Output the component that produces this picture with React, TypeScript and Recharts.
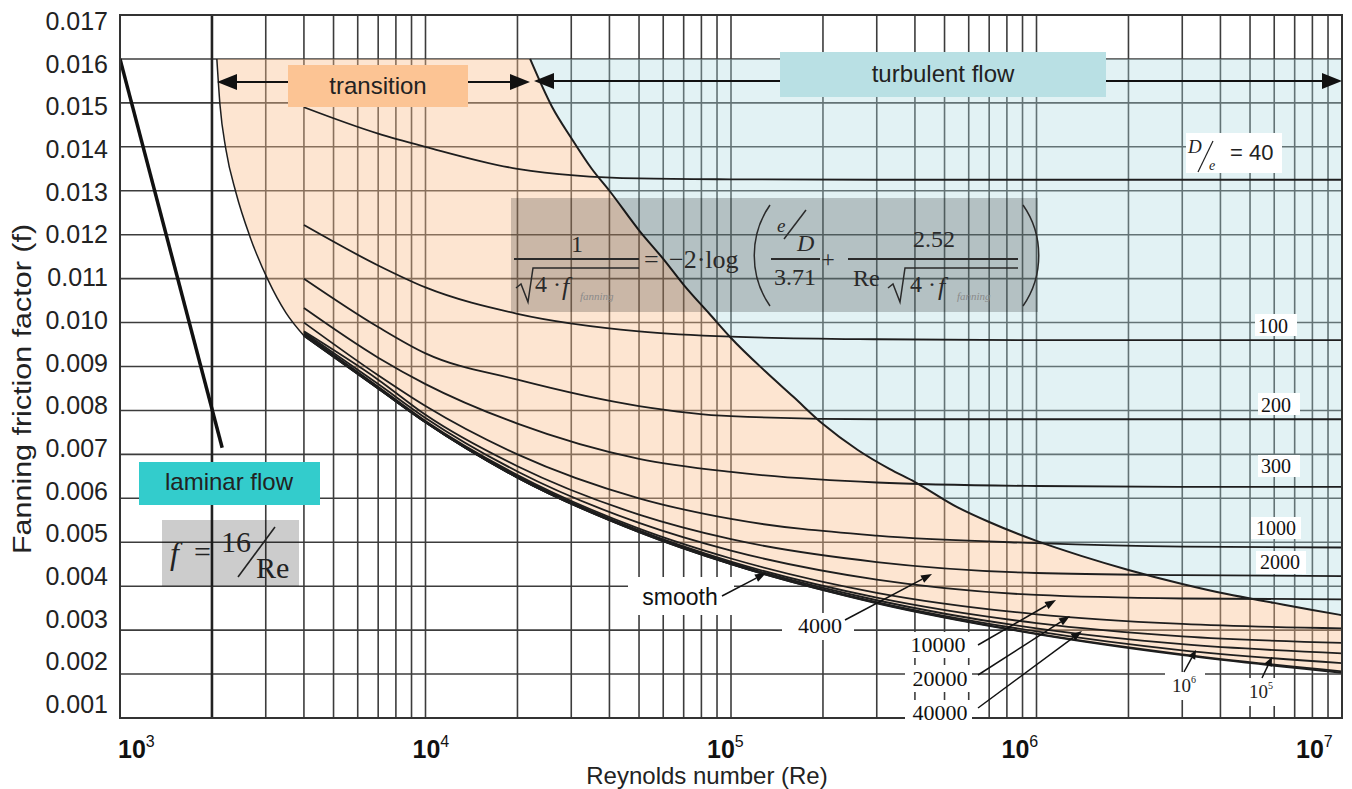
import React from "react";
import {
	ComposedChart,
	Line,
	Area,
	XAxis,
	YAxis,
	CartesianGrid,
	ReferenceLine,
} from "recharts";

const SANS = '"Liberation Sans", Arial, sans-serif';
const SERIF = '"Liberation Serif", "Times New Roman", serif';
const INK = "#1e1e1e";

// axes
const DECADES = [1e3, 1e4, 1e5, 1e6, 1e7];
const F_TICKS = [
	0.001, 0.002, 0.003, 0.004, 0.005, 0.006, 0.007, 0.008, 0.009, 0.01,
	0.011, 0.012, 0.013, 0.014, 0.015, 0.016, 0.017,
];
const RE_GRID = [
	2000, 3000, 4000, 5000, 6000, 7000, 8000, 9000, 1e4,
	2e4, 3e4, 4e4, 5e4, 6e4, 7e4, 8e4, 9e4, 1e5,
	2e5, 3e5, 4e5, 5e5, 6e5, 7e5, 8e5, 9e5, 1e6,
	2e6, 3e6, 4e6, 5e6, 6e6, 7e6, 8e6, 9e6,
];

// laminar line f = 16/Re
const LAMINAR_RE = [1000, 2160];
const LAMINAR_F = [0.016, 0.00715];

// roughness curves, labelled by D/e
const CURVE_RE = [4000, 7000, 1e4, 2e4, 5e4, 1e5, 3e5, 1e6, 3e6, 1e7];
const F_40 = [0.0149, 0.0143, 0.014, 0.0135, 0.01328, 0.01326, 0.01325, 0.01325, 0.01325, 0.01325];
const F_100 = [0.01222, 0.0113, 0.0108, 0.0102, 0.0098, 0.00968, 0.00962, 0.0096, 0.0096, 0.0096];
const F_200 = [0.011, 0.0099, 0.0093, 0.0087, 0.0081, 0.00787, 0.0078, 0.0078, 0.0078, 0.0078];
const F_300 = [0.01033, 0.0092, 0.0086, 0.0077, 0.0069, 0.0066, 0.00636, 0.00628, 0.00626, 0.00626];
const F_1000 = [0.01, 0.0088, 0.0081, 0.007, 0.006, 0.00553, 0.00515, 0.00498, 0.0049, 0.00488];
const F_2000 = [0.0098, 0.0087, 0.0079, 0.00673, 0.00563, 0.00507, 0.00455, 0.0043, 0.00425, 0.00423];
const F_4000 = [0.00978, 0.0086, 0.00783, 0.00661, 0.00544, 0.00481, 0.00415, 0.0038, 0.00372, 0.0037];
const F_10000 = [0.00975, 0.00854, 0.00776, 0.00653, 0.00531, 0.00463, 0.00385, 0.00336, 0.00314, 0.00304];
const F_20000 = [0.00973, 0.00852, 0.00774, 0.0065, 0.00527, 0.00456, 0.00374, 0.00316, 0.00286, 0.00271];
const F_40000 = [0.00972, 0.00851, 0.00773, 0.00648, 0.00525, 0.00453, 0.00368, 0.00304, 0.00268, 0.00247];
const F_1E5 = [0.00971, 0.0085, 0.00773, 0.00647, 0.00524, 0.00451, 0.00364, 0.00297, 0.00254, 0.00225];
const F_1E6 = [0.0097, 0.0085, 0.00773, 0.00647, 0.00523, 0.0045, 0.00362, 0.00292, 0.00245, 0.00206];
const F_SMOOTH = [0.0097, 0.0085, 0.00773, 0.00647, 0.00523, 0.0045, 0.00361, 0.00291, 0.00243, 0.00203];

// regions: top of the chart's shaded bands
const BAND_TOP = 0.016;
// left edge of the transition zone
const EDGE_RE = [2075, 2125, 2223, 2398, 2665, 3051, 3494, 4000];
const EDGE_F = [0.016, 0.01495, 0.01393, 0.01295, 0.01195, 0.01097, 0.01022, 0.0097];
// smooth pipe under the left part of the band
const LOW_RE = [5000, 7000, 1e4, 1.5e4, 2e4];
const LOW_F = [0.00934, 0.0085, 0.00773, 0.00695, 0.00647];
// start of fully rough flow, with the smooth curve beneath it
const ROUGH_RE = [
	2.2e4, 2.6e4, 3e4, 3.5e4, 4e4, 5e4, 6e4, 7e4, 8.5e4, 1e5, 1.3e5, 1.6e5, 2e5,
	2.6e5, 3.3e5, 4e5, 5.5e5, 7e5, 1e6, 1.4e6, 2e6, 3e6, 4.2e6, 6e6, 8e6, 1e7,
];
const ROUGH_EDGE = [
	0.016, 0.0149, 0.0142, 0.0135, 0.013, 0.0121, 0.01145, 0.01086, 0.0102, 0.00965, 0.00888, 0.00831, 0.00769,
	0.0071, 0.00667, 0.00637, 0.0058, 0.00546, 0.00503, 0.00469, 0.00437, 0.00405, 0.00382, 0.00362, 0.00346, 0.00334,
];
const ROUGH_LOW = [
	0.00633, 0.00609, 0.00588, 0.00567, 0.00548, 0.00523, 0.00503, 0.00486, 0.00466, 0.0045, 0.00428, 0.00411, 0.00392,
	0.00372, 0.00355, 0.00343, 0.00325, 0.00311, 0.00291, 0.00275, 0.00259, 0.00243, 0.00231, 0.00219, 0.0021, 0.00203,
];

const CURVES = [
	{ id: "40", f: F_40 },
	{ id: "100", f: F_100 },
	{ id: "200", f: F_200 },
	{ id: "300", f: F_300 },
	{ id: "1000", f: F_1000 },
	{ id: "2000", f: F_2000 },
	{ id: "4000", f: F_4000 },
	{ id: "10000", f: F_10000 },
	{ id: "20000", f: F_20000 },
	{ id: "40000", f: F_40000 },
	{ id: "1e5", f: F_1E5 },
	{ id: "1e6", f: F_1E6 },
	{ id: "smooth", f: F_SMOOTH },
];

const rows = (re: number[], f: number[]) => re.map((r, i) => ({ re: r, f: f[i] }));

const transitionBand = [
	...EDGE_RE.map((r, i) => ({ re: r, band: [EDGE_F[i], BAND_TOP] })),
	...LOW_RE.map((r, i) => ({ re: r, band: [LOW_F[i], BAND_TOP] })),
	...ROUGH_RE.map((r, i) => ({ re: r, band: [ROUGH_LOW[i], ROUGH_EDGE[i]] })),
];
const turbulentBand = ROUGH_RE.map((r, i) => ({ re: r, band: [ROUGH_EDGE[i], BAND_TOP] }));

const ReTick = (props: any) => {
	const { x, payload } = props;
	const power = Math.round(Math.log10(payload.value));
	const left = x - 2 - (x - 120) * 0.036;
	return (
		<text x={left} y={758} fill="#111" fontFamily={SANS}>
			<tspan fontSize={25} fontWeight="bold">10</tspan>
			<tspan fontSize={16} dy={-11}>{power}</tspan>
		</text>
	);
};

const FTick = (props: any) => {
	const { y, payload } = props;
	const mid = 21 + (y - 15) * 0.9716;
	return (
		<text x={108} y={mid + 9} textAnchor="end" fontSize={25} fill="#222" fontFamily={SANS}>
			{payload.value.toFixed(3)}
		</text>
	);
};

const Arrow = ({ x1, y1, x2, y2, head = 11, half = 4, width = 1.5 }: any) => {
	const a = Math.atan2(y2 - y1, x2 - x1);
	const bx = x2 - head * Math.cos(a);
	const by = y2 - head * Math.sin(a);
	const px = -Math.sin(a) * half;
	const py = Math.cos(a) * half;
	return (
		<g>
			<line x1={x1} y1={y1} x2={bx} y2={by} stroke="#111" strokeWidth={width} />
			<polygon points={`${x2},${y2} ${bx + px},${by + py} ${bx - px},${by - py}`} fill="#111" />
		</g>
	);
};

const Tag = ({ x, y, w, h, text, tx, ty, size = 20, font = SERIF }: any) => (
	<g>
		<rect x={x} y={y} width={w} height={h} fill="#fff" />
		<text x={tx} y={ty} textAnchor="middle" fontSize={size} fontFamily={font} fill="#111">
			{text}
		</text>
	</g>
);

const Notes = () => (
	<svg
		width={1352}
		height={789}
		style={{ position: "absolute", left: 0, top: 0, pointerEvents: "none" }}
	>
		<rect x={120} y={15} width={1222} height={703} fill="none" stroke="#333" strokeWidth={2} />

		{/* flow regime boxes */}
		<rect x={288} y={65} width={180} height={42} fill="#fcc494" />
		<text x={378} y={94} textAnchor="middle" fontSize={24} fontFamily={SANS} fill="#222">
			transition
		</text>
		<Arrow x1={288} y1={82} x2={217} y2={82} head={20} half={8} width={2} />
		<Arrow x1={468} y1={82} x2={530} y2={82} head={20} half={8} width={2} />

		<rect x={780} y={52} width={326} height={45} fill="#b9e0e4" />
		<text x={943} y={82} textAnchor="middle" fontSize={24} fontFamily={SANS} fill="#222">
			turbulent flow
		</text>
		<Arrow x1={780} y1={81} x2={534} y2={81} head={20} half={8} width={2} />
		<Arrow x1={1106} y1={81} x2={1342} y2={81} head={20} half={8} width={2} />

		<rect x={139} y={462} width={181} height={43} fill="#33cccc" />
		<text x={229} y={490} textAnchor="middle" fontSize={24} fontFamily={SANS} fill="#222">
			laminar flow
		</text>

		{/* f = 16/Re */}
		<rect x={162} y={520} width={137} height={66} fill="#000" fillOpacity={0.2} />
		<g fontFamily={SERIF} fill="#222">
			<text x={170} y={564} fontSize={32} fontStyle="italic">f</text>
			<text x={194} y={562} fontSize={30}>=</text>
			<text x={221} y={552} fontSize={30}>16</text>
			<text x={256} y={578} fontSize={30}>Re</text>
		</g>
		<line x1={275} y1={527} x2={238} y2={577} stroke="#222" strokeWidth={1.6} />

		{/* Colebrook equation */}
		<rect x={511} y={198} width={527} height={114} fill="#000" fillOpacity={0.2} />
		<g fontFamily={SERIF} fill="#2a2a2a" stroke="none">
			<text x={577} y={252} fontSize={24} textAnchor="middle">1</text>
			<text x={535} y={292} fontSize={24}>4 ·</text>
			<text x={562} y={295} fontSize={26} fontStyle="italic">f</text>
			<text x={580} y={300} fontSize={11} fontStyle="italic" fill="#8a8a8a">fanning</text>
			<text x={644} y={268} fontSize={26}>=</text>
			<text x={669} y={268} fontSize={26}>−2·log</text>
			<text x={777} y={232} fontSize={19} fontStyle="italic">e</text>
			<text x={797} y={251} fontSize={24} fontStyle="italic">D</text>
			<text x={795} y={285} fontSize={24} textAnchor="middle">3.71</text>
			<text x={828} y={267} fontSize={24} textAnchor="middle">+</text>
			<text x={934} y={247} fontSize={24} textAnchor="middle">2.52</text>
			<text x={853} y={286} fontSize={24}>Re</text>
			<text x={910} y={292} fontSize={24}>4 ·</text>
			<text x={938} y={295} fontSize={26} fontStyle="italic">f</text>
			<text x={957} y={300} fontSize={11} fontStyle="italic" fill="#8a8a8a">fanning</text>
		</g>
		<g stroke="#2a2a2a" fill="none" strokeWidth={1.5}>
			<line x1={514} y1={259} x2={639} y2={259} strokeWidth={2} />
			<path d="M 516 288 L 521 284 L 528 302 L 533 268 L 639 268" />
			<path d="M 770 205 C 749 235 749 276 770 306" />
			<line x1={784} y1={239} x2={806} y2={210} />
			<line x1={771} y1={259} x2={820} y2={259} strokeWidth={2} />
			<line x1={848} y1={259} x2={1018} y2={259} strokeWidth={2} />
			<path d="M 888 288 L 893 284 L 900 302 L 905 268 L 1018 268" />
			<path d="M 1023 205 C 1044 235 1044 276 1023 306" />
		</g>

		{/* D/e labels */}
		<rect x={1186} y={133} width={96} height={40} fill="#fff" />
		<text x={1188} y={153} fontSize={19} fontStyle="italic" fontFamily={SERIF} fill="#222">D</text>
		<line x1={1198} y1={172} x2={1213} y2={141} stroke="#222" strokeWidth={1.2} />
		<text x={1209} y={170} fontSize={14} fontStyle="italic" fontFamily={SERIF} fill="#222">e</text>
		<text x={1230} y={160} fontSize={22} fontFamily={SANS} fill="#222">= 40</text>

		<Tag x={1255} y={314} w={42} h={22} text="100" tx={1273} ty={333} />
		<Tag x={1258} y={393} w={42} h={22} text="200" tx={1276} ty={412} />
		<Tag x={1258} y={455} w={42} h={22} text="300" tx={1276} ty={473} />
		<Tag x={1251} y={517} w={50} h={22} text="1000" tx={1276} ty={535} />
		<Tag x={1256} y={551} w={50} h={23} text="2000" tx={1280} ty={569} />

		<Tag x={628} y={577} w={106} h={38} text="smooth" tx={680} ty={605} size={23} font={SANS} />
		<Arrow x1={722} y1={596} x2={766} y2={573} />
		<Tag x={782} y={613} w={72} h={27} text="4000" tx={820} ty={633} size={22} />
		<Arrow x1={845} y1={620} x2={932} y2={574} />
		<Tag x={905} y={632} w={67} h={26} text="10000" tx={938} ty={652} size={22} />
		<Arrow x1={978} y1={645} x2={1056} y2={600} />
		<Tag x={905} y={665} w={67} h={27} text="20000" tx={940} ty={686} size={22} />
		<Arrow x1={978} y1={675} x2={1070} y2={616} />
		<Tag x={905} y={700} w={67} h={25} text="40000" tx={940} ty={720} size={22} />
		<Arrow x1={978} y1={708} x2={1082} y2={631} />

		<rect x={1165} y={672} width={40} height={28} fill="#fff" />
		<text x={1172} y={692} fontFamily={SERIF} fill="#222">
			<tspan fontSize={19}>10</tspan>
			<tspan fontSize={10} dy={-9}>6</tspan>
		</text>
		<Arrow x1={1184} y1={672} x2={1196} y2={650} head={9} />
		<rect x={1243} y={678} width={40} height={28} fill="#fff" />
		<text x={1249} y={698} fontFamily={SERIF} fill="#222">
			<tspan fontSize={19}>10</tspan>
			<tspan fontSize={10} dy={-9}>5</tspan>
		</text>
		<Arrow x1={1262} y1={678} x2={1272} y2={657} head={9} />

		{/* axis titles */}
		<text x={707} y={784} textAnchor="middle" fontSize={24} fontFamily={SANS} fill="#222">
			Reynolds number (Re)
		</text>
		<text
			transform="translate(31,389) rotate(-90)"
			textAnchor="middle"
			fontSize={25}
			fontFamily={SANS}
			fill="#222"
			textLength={330}
			lengthAdjust="spacingAndGlyphs"
		>
			Fanning friction factor (f)
		</text>
	</svg>
);

const App: React.FC = () => (
	<div
		style={{
			position: "absolute",
			left: 0,
			top: 0,
			width: 1352,
			height: 789,
			background: "#fff",
			fontFamily: SANS,
		}}
	>
		<ComposedChart width={1352} height={789} margin={{ top: 15, right: 10, bottom: 0, left: 0 }}>
			<CartesianGrid
				stroke="#3c3c3c"
				strokeWidth={1.6}
				horizontalValues={F_TICKS}
				verticalValues={RE_GRID}
			/>
			<XAxis
				type="number"
				dataKey="re"
				scale="log"
				domain={[1e3, 1e7]}
				ticks={DECADES}
				interval={0}
				allowDataOverflow
				height={71}
				axisLine={false}
				tickLine={false}
				tick={ReTick}
			/>
			<YAxis
				type="number"
				domain={[0.001, 0.017]}
				ticks={F_TICKS}
				interval={0}
				allowDataOverflow
				width={120}
				axisLine={false}
				tickLine={false}
				tick={FTick}
			/>

			<Area
				data={transitionBand}
				dataKey="band"
				type="linear"
				fill="#fbbe8c"
				fillOpacity={0.4}
				stroke="none"
				isAnimationActive={false}
			/>
			<Area
				data={turbulentBand}
				dataKey="band"
				type="linear"
				fill="#acdae0"
				fillOpacity={0.35}
				stroke="none"
				isAnimationActive={false}
			/>

			<ReferenceLine x={2000} stroke="#222" strokeWidth={2.6} />

			<Line
				data={rows(EDGE_RE, EDGE_F)}
				dataKey="f"
				type="monotone"
				stroke={INK}
				strokeWidth={1.5}
				dot={false}
				isAnimationActive={false}
			/>
			<Line
				data={rows(ROUGH_RE, ROUGH_EDGE)}
				dataKey="f"
				type="monotone"
				stroke={INK}
				strokeWidth={2}
				dot={false}
				isAnimationActive={false}
			/>
			{CURVES.map((c) => (
				<Line
					key={c.id}
					data={rows(CURVE_RE, c.f)}
					dataKey="f"
					name={c.id}
					type="monotone"
					stroke={INK}
					strokeWidth={1.8}
					dot={false}
					isAnimationActive={false}
				/>
			))}
			<Line
				data={rows(LAMINAR_RE, LAMINAR_F)}
				dataKey="f"
				type="linear"
				stroke="#111"
				strokeWidth={3.5}
				dot={false}
				isAnimationActive={false}
			/>
		</ComposedChart>
		<Notes />
	</div>
);

export default App;
